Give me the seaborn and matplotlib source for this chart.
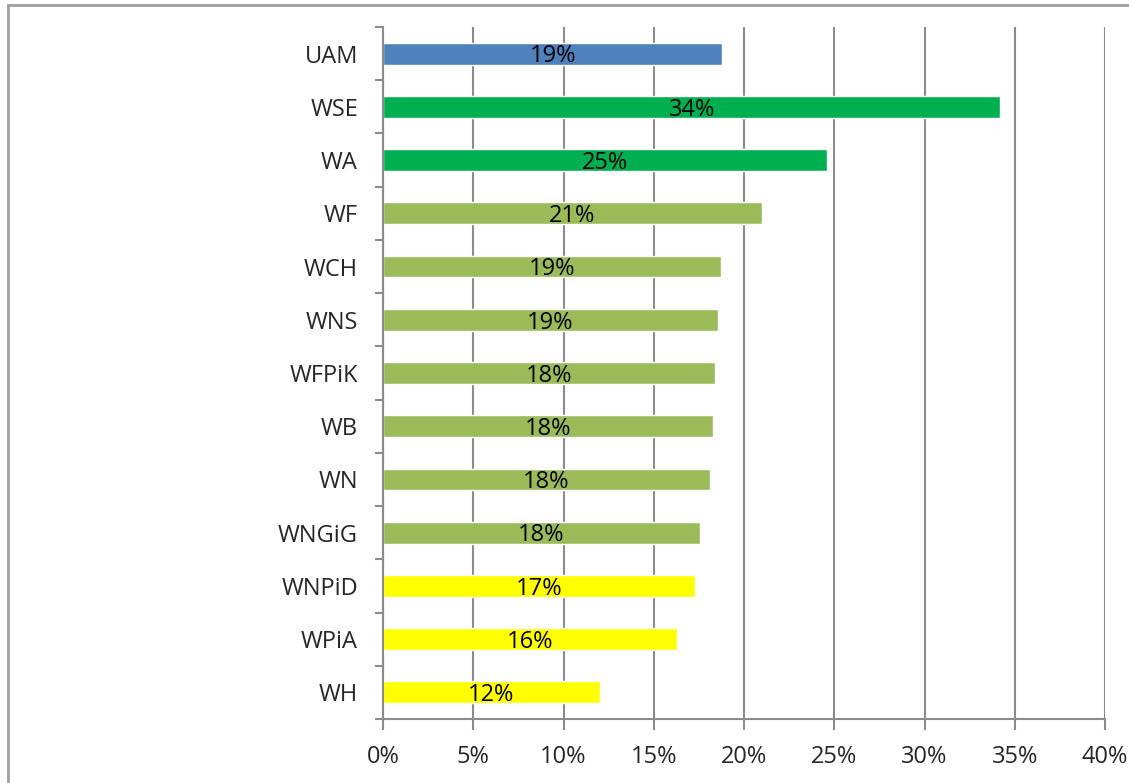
import numpy as np
import pandas as pd
import matplotlib.pyplot as plt
import matplotlib.patches as patches
from matplotlib.ticker import FixedLocator, PercentFormatter
import seaborn as sns

# Data
names = ['UAM', 'WSE', 'WA', 'WF', 'WCH', 'WNS', 'WFPiK', 'WB', 'WN',
         'WNGiG', 'WNPiD', 'WPiA', 'WH']
shares = [18.8, 34.2, 24.6, 21.0, 18.7, 18.55, 18.4, 18.3, 18.1,
          17.55, 17.3, 16.3, 12.0]
groups = ['uam', 'top', 'top', 'mid', 'mid', 'mid', 'mid', 'mid', 'mid',
          'mid', 'low', 'low', 'low']
group_colors = {'uam': '#4F81BD', 'top': '#00B050', 'mid': '#9BBB59', 'low': '#FFFF00'}

df = pd.DataFrame({'name': names, 'share': shares, 'group': groups})

sns.set_style('white')
plt.rcParams['font.family'] = ['Open Sans', 'DejaVu Sans']

fig = plt.figure(figsize=(11.29, 7.83), dpi=100)
ax = fig.add_axes([383 / 1129, 1 - 719 / 783, (1105 - 383) / 1129, (719 - 27) / 783])

sns.barplot(data=df, y='name', x='share', hue='group', palette=group_colors,
            saturation=1, dodge=False, width=0.41, legend=False, ax=ax, orient='h')

for cont in ax.containers:
    labels = [f'{w:.0f}%' if w > 0 else '' for w in cont.datavalues]
    texts = ax.bar_label(cont, labels=labels, label_type='center', fontsize=17, color='black')
    for t in texts:
        t.xyann = (0, -2)  # Excel puts the labels a touch below centre

ax.set_xlim(0, 40)
ax.set_ylim(len(names) - 0.5, -0.5)
ax.xaxis.set_major_locator(FixedLocator(np.arange(0, 41, 5)))
ax.xaxis.set_major_formatter(PercentFormatter(decimals=0))
ax.set_xlabel('')
ax.set_ylabel('')

# vertical gridlines
ax.grid(axis='x', color='#8c8c8c', linewidth=1.5)
ax.set_axisbelow(True)

for side in ['top', 'right']:
    ax.spines[side].set_visible(False)
for side in ['left', 'bottom']:
    ax.spines[side].set_color('#8c8c8c')
    ax.spines[side].set_linewidth(1.5)

# category ticks sit between the bars
ax.set_yticks(np.arange(len(names)))
ax.set_yticklabels(names)
ax.set_yticks(np.arange(-0.5, len(names), 1), minor=True)
ax.tick_params(axis='y', which='major', length=0, labelsize=17, pad=18)
ax.tick_params(axis='y', which='minor', length=6, width=1.5, color='#8c8c8c', left=True)
ax.tick_params(axis='x', length=8, width=1.5, color='#8c8c8c', labelsize=17, pad=11,
               bottom=True)

# outer chart border
border = patches.Rectangle((8 / 1129, -0.05), 1.05, 1 - 5 / 783 + 0.05,
                           transform=fig.transFigure, fill=False,
                           edgecolor='#a0a0a0', linewidth=2, clip_on=False)
fig.patches.append(border)

fig.savefig('out.png', dpi=100)
